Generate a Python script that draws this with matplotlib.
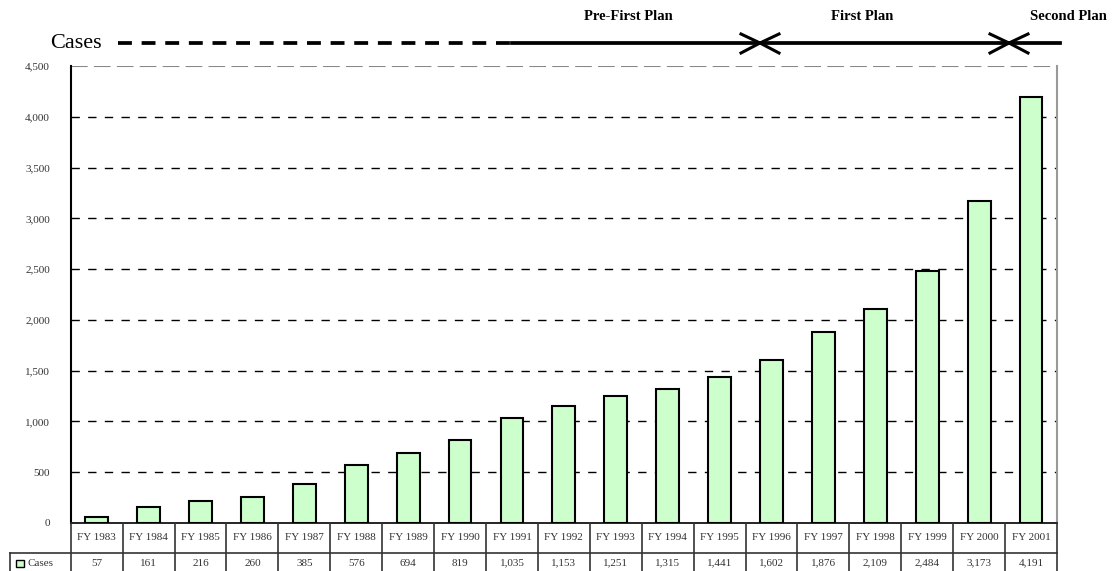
import numpy as np
import matplotlib
import matplotlib.pyplot as plt
from matplotlib.lines import Line2D
from matplotlib.patches import Rectangle

years = ['FY 1983', 'FY 1984', 'FY 1985', 'FY 1986', 'FY 1987', 'FY 1988', 'FY 1989',
         'FY 1990', 'FY 1991', 'FY 1992', 'FY 1993', 'FY 1994', 'FY 1995', 'FY 1996',
         'FY 1997', 'FY 1998', 'FY 1999', 'FY 2000', 'FY 2001']
cases = [57, 161, 216, 260, 385, 576, 694, 819, 1035, 1153, 1251, 1315, 1441, 1602,
         1876, 2109, 2484, 3173, 4191]
yticks = [0, 500, 1000, 1500, 2000, 2500, 3000, 3500, 4000, 4500]
plans = ['Pre-First Plan', 'First Plan', 'Second Plan']


def main():
    matplotlib.rc('font', family='Liberation Serif')

    W, H = 1115, 571
    fig = plt.figure(figsize=(W / 100, H / 100), dpi=100)

    def fx(px):
        return px / W

    def fy(py):
        return 1 - py / H

    ax = fig.add_axes([fx(70.7), fy(523), fx(1057) - fx(70.7), fy(66) - fy(523)])

    x = np.arange(len(years))
    ax.bar(x, cases, width=0.44, color='#ccffcc', edgecolor='black', linewidth=1.5, zorder=3)

    ax.set_xlim(-0.5, len(years) - 0.5)
    ax.set_ylim(0, 4500)
    ax.set_yticks(yticks)
    ax.set_yticklabels(['{:,}'.format(v) for v in yticks], fontsize=8, color='#333333')
    ax.tick_params(axis='y', length=0, pad=15)
    ax.set_xticks([])

    for v in yticks[1:-1]:
        ax.axhline(v, color='black', linewidth=1, linestyle=(0, (6, 6)), zorder=1)
    ax.axhline(4500, color='#888888', linewidth=1.5, linestyle=(0, (8, 3)), zorder=2)

    ax.spines['top'].set_visible(False)
    ax.spines['right'].set_color('#999999')
    ax.spines['right'].set_linewidth(1.5)
    ax.spines['left'].set_linewidth(1.5)
    ax.spines['bottom'].set_linewidth(1.2)

    # data table under the bars
    y0, y1, y2 = fy(523), fy(553), fy(574)
    tc = '#333333'
    for i in range(len(years) + 1):
        xl = fx(70.7) + i * (fx(1057) - fx(70.7)) / len(years)
        fig.add_artist(Line2D([xl, xl], [y0, y2], color=tc, linewidth=1.2))
    fig.add_artist(Line2D([fx(10), fx(10)], [y1, y2], color=tc, linewidth=1.2))
    fig.add_artist(Line2D([fx(10), fx(1057)], [y1, y1], color=tc, linewidth=1.2))

    tr = matplotlib.transforms.blended_transform_factory(ax.transData, fig.transFigure)
    for i, (yr, c) in enumerate(zip(years, cases)):
        fig.text(i, (y0 + y1) / 2, yr, transform=tr, ha='center', va='center',
                 fontsize=8, color=tc)
        fig.text(i, fy(563), '{:,}'.format(c), transform=tr, ha='center',
                 va='center', fontsize=8, color=tc)
    fig.add_artist(Rectangle((fx(16), fy(567)), fx(8), fy(560) - fy(567),
                             facecolor='#ccffcc', edgecolor='black', linewidth=1))
    fig.text(fx(28), fy(563), 'Cases', ha='left', va='center', fontsize=8, color=tc)

    # plan periods along the top
    ly = fy(43)
    fig.text(fx(50), ly, 'Cases', ha='left', va='center', fontsize=16)
    fig.add_artist(Line2D([fx(118), fx(512)], [ly, ly], color='black', linewidth=2.7,
                          linestyle=(0, (3.7, 2.6))))
    fig.add_artist(Line2D([fx(512), fx(1060)], [ly, ly], color='black', linewidth=2.7))
    for cx in (760, 1009):
        for d in (-1, 1):
            fig.add_artist(Line2D([fx(cx + d * 19), fx(cx), fx(cx + d * 19)],
                                  [fy(34), ly, fy(53)], color='black', linewidth=2.2))
    for label, px in zip(plans, (628, 862, 1068)):
        fig.text(fx(px), fy(17), label, ha='center', va='center', fontsize=10.5,
                 fontweight='bold')

    fig.savefig('out.png', dpi=100)
    plt.close(fig)


if __name__ == '__main__':
    main()
